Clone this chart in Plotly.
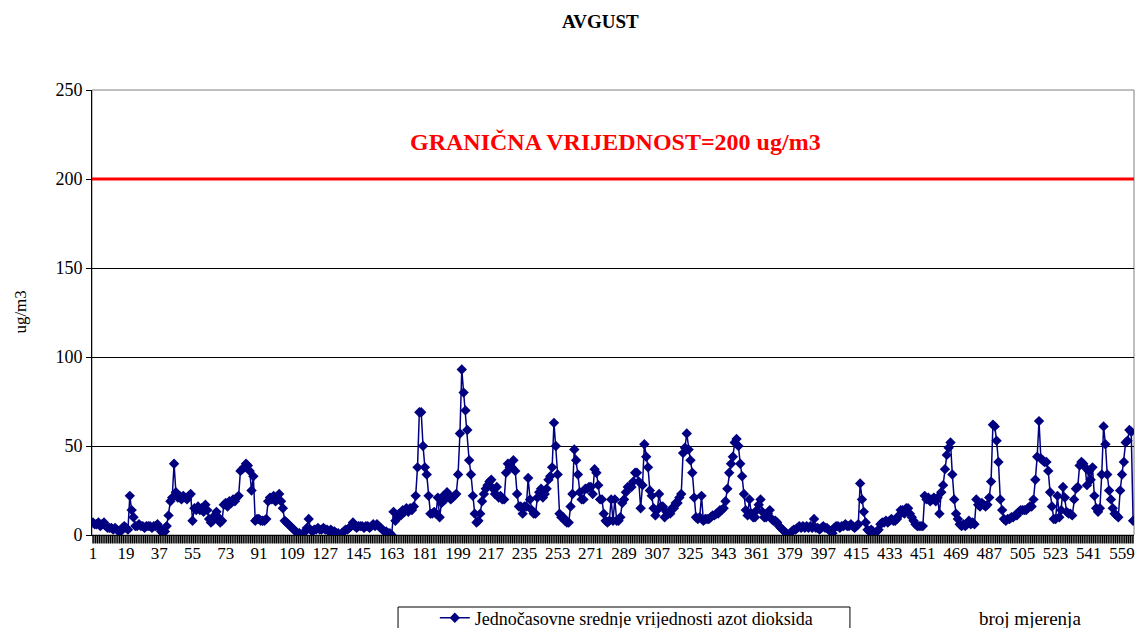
import plotly.graph_objects as go

# hourly NO2 values, august (ug/m3)
no2 = [
    7, 6, 6, 7, 5, 6, 7, 5, 4, 4,
    4, 3, 4, 3, 2, 2, 4, 5, 4, 3,
    22, 14, 10, 5, 5, 6, 5, 5, 4, 5,
    5, 5, 4, 5, 5, 6, 4, 2, 1, 2,
    5, 11, 19, 21, 40, 24, 21, 22, 20, 22,
    21, 20, 22, 23, 8, 15, 14, 16, 14, 15,
    13, 17, 14, 9, 7, 8, 11, 13, 10, 7,
    8, 17, 18, 16, 19, 18, 20, 19, 21, 22,
    36, 37, 38, 40, 39, 36, 25, 33, 8, 9,
    9, 8, 8, 8, 9, 19, 21, 20, 22, 19,
    20, 23, 19, 15, 8, 7, 6, 5, 4, 3,
    2, 1, 1, 0, 1, 2, 4, 9, 3, 2,
    3, 3, 4, 3, 3, 4, 3, 3, 2, 3,
    2, 2, 1, 1, 0, 1, 2, 3, 3, 4,
    5, 7, 5, 4, 5, 5, 5, 4, 5, 5,
    4, 5, 6, 5, 6, 5, 4, 3, 2, 2,
    1, 1, 0, 13, 8, 10, 12, 11, 14, 13,
    15, 13, 15, 14, 16, 22, 38, 69, 69, 50,
    38, 34, 22, 12, 12, 13, 12, 21, 10, 18,
    22, 20, 24, 22, 20, 21, 22, 23, 34, 57,
    93, 80, 70, 59, 42, 34, 22, 12, 7, 8,
    12, 19, 23, 26, 28, 30, 31, 26, 23, 27,
    21, 22, 20, 20, 35, 40, 38, 38, 42, 36,
    23, 16, 16, 12, 16, 16, 32, 20, 14, 12,
    12, 21, 24, 26, 21, 23, 26, 31, 33, 38,
    63, 50, 34, 12, 10, 10, 8, 7, 7, 16,
    23, 48, 42, 34, 24, 20, 20, 26, 26, 27,
    27, 23, 37, 35, 28, 20, 20, 12, 8, 7,
    8, 20, 8, 20, 8, 8, 10, 18, 20, 24,
    27, 27, 27, 30, 35, 35, 30, 15, 28, 51,
    44, 38, 25, 22, 15, 11, 14, 23, 16, 16,
    10, 13, 12, 12, 15, 15, 18, 18, 21, 23,
    46, 49, 57, 48, 42, 35, 21, 10, 9, 10,
    22, 8, 9, 9, 9, 10, 11, 11, 12, 12,
    14, 14, 15, 19, 26, 35, 40, 44, 52, 54,
    50, 40, 33, 23, 14, 11, 20, 12, 10, 10,
    14, 17, 20, 13, 10, 10, 12, 14, 9, 8,
    8, 7, 5, 4, 3, 2, 1, 0, 1, 2,
    3, 3, 4, 5, 4, 5, 4, 5, 4, 5,
    4, 9, 4, 4, 3, 4, 5, 4, 4, 3,
    2, 1, 4, 5, 5, 4, 5, 5, 6, 5,
    5, 6, 5, 4, 5, 6, 29, 20, 13, 7,
    3, 2, 3, 2, 1, 2, 3, 6, 7, 7,
    8, 7, 8, 9, 8, 8, 9, 11, 14, 14,
    12, 15, 15, 12, 10, 8, 6, 5, 5, 5,
    5, 22, 20, 21, 19, 20, 21, 19, 21, 12,
    24, 28, 37, 45, 49, 52, 34, 20, 12, 9,
    6, 5, 6, 5, 6, 8, 6, 7, 6, 20,
    17, 16, 18, 17, 16, 17, 21, 30, 62, 61,
    53, 41, 20, 14, 9, 8, 9, 9, 10, 10,
    11, 11, 13, 14, 14, 14, 14, 15, 16, 16,
    20, 31, 44, 64, 43, 42, 41, 41, 36, 24,
    16, 9, 9, 22, 10, 14, 27, 21, 13, 12,
    12, 11, 20, 26, 27, 39, 41, 40, 38, 28,
    36, 31, 38, 22, 15, 13, 15, 34, 61, 51,
    34, 25, 20, 15, 12, 11, 10, 25, 34, 41,
    52, 53, 59, 58, 8,
]
mjerenja = list(range(1, len(no2) + 1))
x_ticks = list(range(1, len(no2) + 1, 18))
y_ticks = [0, 50, 100, 150, 200, 250]
granica = 200

font = "Liberation Serif, Times New Roman, serif"
x_range = [0.5, len(no2) + 0.5]
# tick marks sit on category boundaries, like excel
granice_kat = [k + 0.5 for k in range(len(no2) + 1)]

fig = go.Figure()
# granicna vrijednost
fig.add_trace(go.Scatter(
    x=x_range, y=[granica, granica], mode="lines",
    line=dict(color="#ff0000", width=3), showlegend=False, hoverinfo="skip",
))
fig.add_trace(go.Scatter(
    x=mjerenja, y=no2, mode="lines+markers",
    name="Jednočasovne srednje vrijednosti azot dioksida",
    line=dict(color="#000080", width=1.5),
    marker=dict(symbol="diamond", size=8, color="#000080"),
))
# category tick marks under the axis
fig.add_trace(go.Scatter(
    x=granice_kat, y=[-2.4] * len(granice_kat), mode="markers",
    marker=dict(symbol="line-ns-open", size=7, color="black",
                line=dict(color="black", width=1.4)),
    cliponaxis=False, showlegend=False, hoverinfo="skip",
))
tick_path = " ".join(f"M{b},0 L{b},-0.019" for b in granice_kat)
fig.add_shape(type="path", xref="x", yref="paper", path=tick_path,
              line=dict(color="black", width=1.4), layer="above")

fig.add_shape(type="rect", xref="paper", yref="paper", x0=0, x1=1, y0=0, y1=1,
              line=dict(color="#808080", width=1), layer="below")
# legend frame
fig.add_shape(type="rect", xref="paper", yref="paper", x0=0.2937, x1=0.7274,
              y0=-0.25, y1=-0.1618, line=dict(color="black", width=1))

fig.add_annotation(text="<b>GRANIČNA VRIJEDNOST=200 ug/m3</b>", xref="paper", yref="y",
                   x=0.5024, xanchor="center", y=221, yanchor="middle", showarrow=False,
                   font=dict(family=font, size=24, color="#ff0000"))
fig.add_annotation(text="<b>AVGUST</b>", xref="paper", yref="paper",
                   x=0.488, xanchor="center", y=1.153, yanchor="middle", showarrow=False,
                   font=dict(family=font, size=19, color="black"))
fig.add_annotation(text="ug/m3", xref="paper", yref="paper", textangle=-90,
                   x=-0.069, xanchor="center", y=0.5, yanchor="middle", showarrow=False,
                   font=dict(family=font, size=17, color="black"))
fig.add_annotation(text="broj mjerenja", xref="paper", yref="paper",
                   x=0.9, xanchor="center", y=-0.188, yanchor="middle", showarrow=False,
                   font=dict(family=font, size=19, color="black"))

fig.update_xaxes(
    range=x_range, tickmode="array", tickvals=x_ticks, ticktext=[str(v) for v in x_ticks],
    tickangle=0, ticks="outside", ticklen=3, tickcolor="rgba(0,0,0,0)",
    showgrid=False, zeroline=False,
    showline=True, linecolor="black", linewidth=1,
    tickfont=dict(family=font, size=17, color="black"),
)
fig.update_yaxes(
    range=[0, 250], tickmode="array", tickvals=y_ticks,
    ticks="outside", ticklen=5, tickcolor="black",
    showgrid=True, gridcolor="black", gridwidth=1,
    showline=True, linecolor="black", linewidth=1, zeroline=False,
    tickfont=dict(family=font, size=18, color="black"),
)
fig.update_layout(
    width=1127, height=620,
    margin=dict(l=84, r=1, t=82, b=93),
    plot_bgcolor="white", paper_bgcolor="white",
    showlegend=True,
    legend=dict(orientation="h", x=0.329, xanchor="left",
                yref="container", y=0.0161, yanchor="middle",
                borderwidth=0, bgcolor="rgba(0,0,0,0)",
                font=dict(family=font, size=18, color="black")),
)

fig.write_html("out.html")
